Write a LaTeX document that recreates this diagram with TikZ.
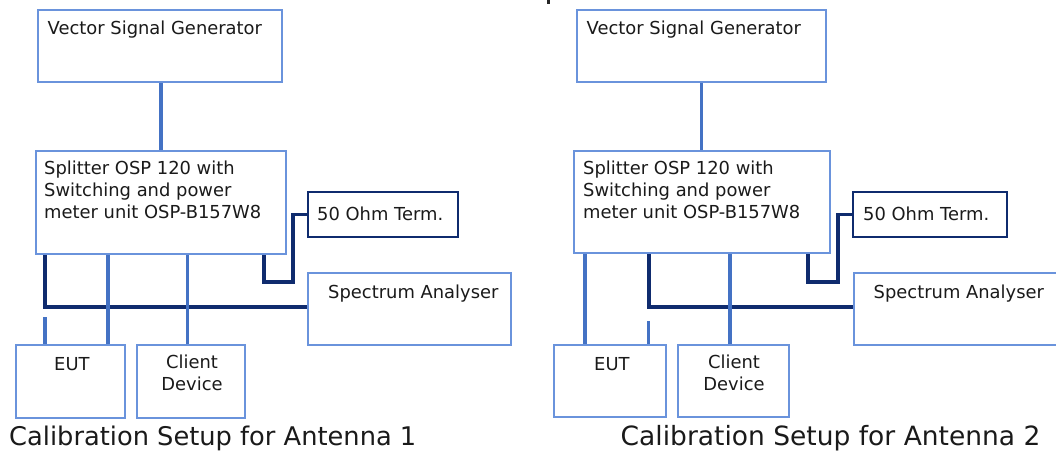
\documentclass[tikz,border=0pt]{standalone}
\usepackage{fontspec}
\setmainfont{DejaVu Sans}
\definecolor{boxblue}{HTML}{6A93DC}
\definecolor{lineblue}{HTML}{4472C4}
\definecolor{navy}{HTML}{0F2B6E}
\definecolor{txt}{HTML}{1A1A1A}
\tikzset{
  x=1pt,y=-1pt,
  box/.style={draw=boxblue,line width=2pt,inner sep=0pt,anchor=north west},
  termbox/.style={draw=navy,line width=2pt,inner sep=0pt,anchor=north west},
  lbl/.style={anchor=base west,inner sep=0pt,text=txt,font=\fontsize{17.9}{22}\selectfont,align=left},
  captext/.style={anchor=base west,inner sep=0pt,text=txt},
  conn/.style={draw=lineblue,line width=3.3pt},
  dark/.style={draw=navy,line width=3.8pt,line join=miter},
}
\begin{document}
\begin{tikzpicture}
\useasboundingbox[fill=white] (0,0) rectangle (1056,452);
\clip (0,0) rectangle (1056,452);
% ---------- left panel ----------
\node[box,minimum width=244,minimum height=72] (vsg1) at (37,9) {};
\node[box,minimum width=250,minimum height=103] (spl1) at (35,150) {};
\node[termbox,minimum width=150,minimum height=45] (term1) at (307,191) {};
\node[box,minimum width=203,minimum height=72] (sa1) at (307,272) {};
\node[box,minimum width=109,minimum height=73] (eut1) at (15,344) {};
\node[box,minimum width=108,minimum height=73] (cli1) at (136,344) {};
\node[lbl] (vsg1t) at (47.5,35) {Vector Signal Generator};
\node[lbl,anchor=north west] (spl1t) at (44,160.5) {Splitter OSP 120 with\\Switching and power\\meter unit OSP-B157W8};
\node[lbl] (term1t) at (317,220) {50 Ohm Term.};
\node[lbl] (sa1t) at (328,298.5) {Spectrum Analyser};
\node[lbl] (eut1t) at (54,370) {EUT};
\node[lbl,anchor=north,align=center] (cli1t) at (192,354.5) {Client\\Device};
\node[captext,font=\fontsize{25.7}{30}\selectfont] (cap1) at (9,445) {Calibration Setup for Antenna 1};
% connectors left
\coordinate (j1a) at (293,282);
\coordinate (j1b) at (264,282);
\coordinate (d1) at (45,307.3);
\coordinate (s1) at (45,317);
\coordinate (e1) at (108,300);
\coordinate (c1) at (187.3,300);
\draw[conn] (vsg1.south -| spl1.north) -- (spl1.north);
\draw[dark] (term1.west) -| (j1a) -- (j1b) -- (j1b |- spl1.south);
\draw[dark] (spl1.south -| d1) -- (d1) -- (d1 -| sa1.west);
\draw[conn] (s1) -- (s1 |- eut1.north);
\draw[conn] (spl1.south -| e1) -- (e1 |- eut1.north);
\draw[conn] (spl1.south -| c1) -- (c1 |- cli1.north);
% ---------- right panel ----------
\node[box,minimum width=249,minimum height=72] (vsg2) at (576,9) {};
\node[box,minimum width=256,minimum height=102] (spl2) at (573,150) {};
\node[termbox,minimum width=154,minimum height=45] (term2) at (852,191) {};
\node[box,minimum width=220,minimum height=72] (sa2) at (853,272) {};
\node[box,minimum width=112,minimum height=72] (eut2) at (553,344) {};
\node[box,minimum width=111,minimum height=72] (cli2) at (677,344) {};
\node[lbl] (vsg2t) at (586.5,35) {Vector Signal Generator};
\node[lbl,anchor=north west] (spl2t) at (583,160.5) {Splitter OSP 120 with\\Switching and power\\meter unit OSP-B157W8};
\node[lbl] (term2t) at (863,220) {50 Ohm Term.};
\node[lbl] (sa2t) at (873.5,298.5) {Spectrum Analyser};
\node[lbl] (eut2t) at (594,370) {EUT};
\node[lbl,anchor=north,align=center] (cli2t) at (734,354.5) {Client\\Device};
\node[captext,font=\fontsize{26.5}{30}\selectfont] (cap2) at (620.5,445) {Calibration Setup for Antenna 2};
% connectors right
\coordinate (j2a) at (838.3,282);
\coordinate (j2b) at (808,282);
\coordinate (d2) at (648.7,306.7);
\coordinate (s2) at (648.7,321);
\coordinate (e2) at (585,300);
\coordinate (c2) at (730,300);
\draw[conn] (vsg2.south -| 701.7,0) -- (spl2.north -| 701.7,0);
\draw[dark] (term2.west) -| (j2a) -- (j2b) -- (j2b |- spl2.south);
\draw[dark] (spl2.south -| d2) -- (d2) -- (d2 -| sa2.west);
\draw[conn] (s2) -- (s2 |- eut2.north);
\draw[conn] (spl2.south -| e2) -- (e2 |- eut2.north);
\draw[conn] (spl2.south -| c2) -- (c2 |- cli2.north);
% clipped fragment at top
\fill[black!85] (547,0) rectangle (549.5,4);
\end{tikzpicture}
\end{document}
